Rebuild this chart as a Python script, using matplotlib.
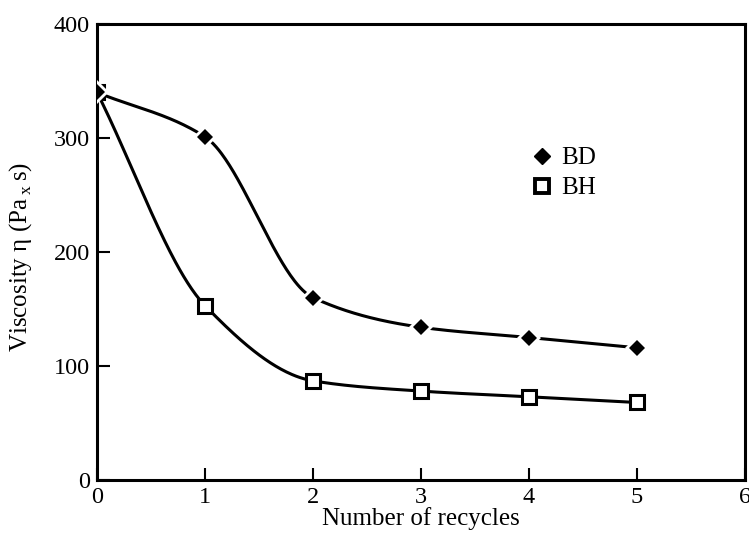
import numpy as np
import matplotlib
matplotlib.use("Agg")
import matplotlib.pyplot as plt
from matplotlib.lines import Line2D

cycles = [0, 1, 2, 3, 4, 5]
bd = [340, 301, 160, 134, 125, 116]
bh = [340, 153, 87, 78, 73, 68]
xticks = [0, 1, 2, 3, 4, 5, 6]
yticks = [0, 100, 200, 300, 400]


def pchip(x, y, xs):
    x = np.asarray(x, float); y = np.asarray(y, float)
    h = np.diff(x); d = np.diff(y) / h
    n = len(x); m = np.zeros(n)
    for k in range(1, n - 1):
        if d[k - 1] * d[k] > 0:
            w1 = 2 * h[k] + h[k - 1]; w2 = h[k] + 2 * h[k - 1]
            m[k] = (w1 + w2) / (w1 / d[k - 1] + w2 / d[k])
    m[0] = d[0]; m[-1] = d[-1]
    idx = np.clip(np.searchsorted(x, xs) - 1, 0, n - 2)
    t = (xs - x[idx]) / h[idx]
    h00 = 2 * t**3 - 3 * t**2 + 1; h10 = t**3 - 2 * t**2 + t
    h01 = -2 * t**3 + 3 * t**2; h11 = t**3 - t**2
    return h00 * y[idx] + h10 * h[idx] * m[idx] + h01 * y[idx + 1] + h11 * h[idx] * m[idx + 1]


plt.rcParams['font.family'] = ['Liberation Serif', 'DejaVu Serif']
plt.rcParams['mathtext.fontset'] = 'custom'
plt.rcParams['mathtext.rm'] = 'Liberation Serif'
fig = plt.figure(figsize=(7.49, 5.33), dpi=100)
ax = fig.add_axes([0.1295, 0.0994, 0.8652, 0.8556])

xs = np.linspace(0, 5, 400)
ax.plot(xs, pchip(cycles, bd, xs), color='black', lw=2.2, zorder=2)
ax.plot(xs, pchip(cycles, bh, xs), color='black', lw=2.2, zorder=2)
ax.plot(cycles, bh, linestyle='none', marker='s', ms=9.5, mfc='white', mec='black', mew=2.2, zorder=3)
ax.plot(cycles, bd, linestyle='none', marker='D', ms=12, mfc='white', mec='white', mew=0, zorder=4)
ax.plot(cycles, bd, linestyle='none', marker='D', ms=8.5, mfc='black', mec='black', mew=0, zorder=5)

h1 = Line2D([], [], linestyle='none', marker='D', ms=8.5, color='black')
h2 = Line2D([], [], linestyle='none', marker='s', ms=9.5, mfc='white', mec='black', mew=2.8)
ax.legend([h1, h2], ['BD', 'BH'], loc='upper left', bbox_to_anchor=(0.632, 0.78),
          frameon=False, fontsize=18, handletextpad=0.3, labelspacing=0.3, handlelength=1.0)

ax.set_xlim(0, 6)
ax.set_ylim(0, 400)
ax.set_xticks(xticks)
ax.set_yticks(yticks)
ax.tick_params(direction='in', length=9, width=1.5, labelsize=17.5, pad=5)
for s in ax.spines.values():
    s.set_linewidth(2.2)
ax.set_xlabel('Number of recycles', fontsize=18, labelpad=-1)
ax.set_ylabel(r'Viscosity η (Pa$\,_{\mathrm{x}}\,$s)', fontsize=18, labelpad=4)
ax.yaxis.set_label_coords(-0.097, 0.49)

fig.savefig('out.png', dpi=100)
